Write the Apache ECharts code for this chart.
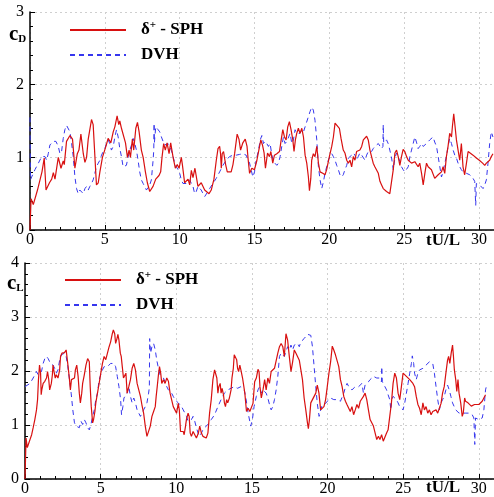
<!DOCTYPE html>
<html><head><meta charset="utf-8">
<script src="https://cdn.jsdelivr.net/npm/echarts/dist/echarts.min.js"></script>
<style>html,body{margin:0;padding:0;background:#fff}#c{width:494px;height:497px}</style>
</head><body><div id="c"></div>
<script>
// tick labels / axes
const xTicks = [0, 5, 10, 15, 20, 25, 30];
const seriesNames = ['δ+ - SPH', 'DVH'];
// cD, δ+-SPH  [tU/L, cD]
const cdSph = [[0,0],[0.07,0.43],[0.22,0.35],[0.5,0.55],[0.8,0.8],[0.95,0.99],[1.07,0.55],[1.3,0.65],[1.45,0.7],[1.56,0.79],[1.67,0.7],[1.89,1.0],[2.07,0.85],[2.22,0.95],[2.29,0.9],[2.44,1.22],[2.67,1.3],[2.78,1.32],[2.84,1.25],[3.0,0.85],[3.16,1.05],[3.27,1.1],[3.4,1.32],[3.56,1.05],[3.67,0.93],[3.78,1.0],[3.89,1.25],[4.11,1.52],[4.22,1.45],[4.44,0.62],[4.56,0.65],[4.67,0.8],[4.84,1.0],[5.07,1.15],[5.22,1.26],[5.4,1.2],[5.56,1.35],[5.67,1.42],[5.82,1.57],[5.93,1.45],[6.0,1.5],[6.11,1.4],[6.22,1.42],[6.38,1.2],[6.51,1.0],[6.62,1.1],[6.71,1.0],[6.84,1.25],[6.93,1.1],[7.07,1.4],[7.18,1.48],[7.29,1.35],[7.44,1.1],[7.56,1.0],[7.71,0.8],[7.84,0.65],[8.0,0.53],[8.11,0.52],[8.22,0.6],[8.4,0.7],[8.62,0.75],[8.73,0.8],[8.82,1.0],[8.93,1.19],[9.04,1.1],[9.16,1.2],[9.29,1.05],[9.4,1.2],[9.56,1.0],[9.71,0.85],[9.84,0.9],[9.96,0.85],[10.11,1.0],[10.18,0.9],[10.33,0.65],[10.56,0.7],[10.67,0.62],[10.78,0.82],[10.89,0.72],[11.02,0.85],[11.22,0.6],[11.44,0.65],[11.67,0.55],[11.96,0.5],[12.11,0.55],[12.29,0.7],[12.44,0.95],[12.56,1.12],[12.67,1.15],[12.73,1.05],[12.78,0.85],[12.84,1.05],[12.93,1.08],[13.07,0.9],[13.18,0.8],[13.44,0.8],[13.56,0.9],[13.67,1.05],[13.84,1.32],[13.96,1.25],[14.07,1.1],[14.22,1.2],[14.38,1.25],[14.5,1.15],[14.58,0.96],[14.67,0.78],[14.82,0.85],[15.0,0.83],[15.16,0.96],[15.27,1.08],[15.42,1.24],[15.53,1.17],[15.64,1.06],[15.73,0.85],[15.87,1.06],[16.0,1.01],[16.09,1.08],[16.22,0.92],[16.33,1.03],[16.49,1.05],[16.67,1.08],[16.78,1.24],[16.89,1.38],[17.0,1.28],[17.11,1.24],[17.22,1.42],[17.33,1.49],[17.44,1.38],[17.56,1.24],[17.64,1.08],[17.73,1.24],[17.82,1.33],[17.93,1.4],[18.04,1.33],[18.16,1.4],[18.27,1.28],[18.38,1.03],[18.49,0.92],[18.6,0.73],[18.67,0.54],[18.76,0.71],[18.82,0.96],[18.93,1.05],[19.04,1.01],[19.16,1.15],[19.27,0.92],[19.38,0.8],[19.56,0.78],[19.71,0.76],[19.82,0.83],[20.0,1.01],[20.16,1.15],[20.27,1.28],[20.38,1.47],[20.49,1.45],[20.67,1.4],[20.78,1.26],[20.93,1.1],[21.04,1.06],[21.16,0.96],[21.27,0.92],[21.38,0.96],[21.49,0.87],[21.6,1.01],[21.71,0.96],[21.82,1.08],[21.93,1.06],[22.04,1.1],[22.16,1.15],[22.27,1.24],[22.38,1.26],[22.49,1.29],[22.6,1.24],[22.71,1.1],[22.82,1.01],[22.93,0.92],[23.04,0.87],[23.16,0.85],[23.27,0.78],[23.38,0.67],[23.49,0.62],[23.6,0.57],[23.71,0.55],[23.82,0.53],[23.93,0.55],[24.04,0.5],[24.16,0.48],[24.27,0.83],[24.38,1.06],[24.49,1.1],[24.6,1.01],[24.71,0.89],[24.82,1.01],[24.93,1.11],[25.04,1.08],[25.16,1.01],[25.27,0.96],[25.49,0.92],[25.71,0.94],[25.82,0.94],[25.93,0.87],[26.04,0.92],[26.16,0.78],[26.27,0.62],[26.38,0.78],[26.49,0.92],[26.6,0.87],[26.71,0.89],[26.82,0.83],[26.93,0.85],[27.04,0.71],[27.16,0.73],[27.27,0.76],[27.38,0.78],[27.49,0.8],[27.6,0.87],[27.71,0.78],[27.82,1.01],[27.93,1.15],[28.04,1.33],[28.16,1.28],[28.22,1.42],[28.31,1.6],[28.4,1.42],[28.49,1.24],[28.6,1.1],[28.71,0.96],[28.82,1.19],[28.93,0.87],[29.04,0.76],[29.16,0.92],[29.27,1.08],[29.38,1.06],[29.6,1.03],[29.82,0.99],[30.02,0.96],[30.24,0.92],[30.38,0.89],[30.49,0.92],[30.71,0.96],[30.82,1.01],[30.93,1.05]];
// cD, DVH
const cdDvh = [[0,1.55],[0.03,0.69],[0.11,0.73],[0.33,0.83],[0.56,0.92],[0.78,1.01],[0.89,1.03],[1.0,1.01],[1.11,0.96],[1.22,1.05],[1.33,1.17],[1.56,1.22],[1.73,1.22],[1.89,1.15],[2.0,1.05],[2.11,1.08],[2.22,1.26],[2.33,1.38],[2.44,1.44],[2.56,1.42],[2.67,1.35],[2.78,1.19],[2.89,1.01],[3.0,0.73],[3.11,0.57],[3.22,0.5],[3.33,0.55],[3.44,0.53],[3.56,0.5],[3.67,0.57],[3.78,0.6],[3.89,0.55],[4.0,0.6],[4.11,0.64],[4.22,0.69],[4.33,0.78],[4.44,0.87],[4.56,0.92],[4.67,0.96],[4.78,1.03],[4.89,1.08],[5.0,1.12],[5.11,1.19],[5.22,1.24],[5.33,1.19],[5.44,1.1],[5.56,1.15],[5.67,1.28],[5.78,1.38],[5.89,1.28],[6.0,1.12],[6.11,1.01],[6.22,0.87],[6.33,0.85],[6.44,0.89],[6.56,1.01],[6.67,1.1],[6.78,1.17],[6.89,1.26],[7.0,1.19],[7.11,1.1],[7.22,0.96],[7.33,0.8],[7.44,0.69],[7.56,0.64],[7.67,0.62],[7.78,0.55],[7.89,0.55],[8.0,0.62],[8.11,0.69],[8.22,0.95],[8.27,1.1],[8.29,1.47],[8.31,1.2],[8.4,1.42],[8.56,1.38],[8.67,1.35],[8.78,1.28],[8.89,1.22],[9.0,1.17],[9.11,1.15],[9.22,1.19],[9.33,1.15],[9.44,1.1],[9.56,1.01],[9.67,0.92],[9.78,0.87],[9.89,0.83],[10.0,0.78],[10.11,0.69],[10.22,0.64],[10.33,0.66],[10.44,0.64],[10.56,0.66],[10.67,0.69],[10.78,0.64],[10.89,0.6],[11.0,0.5],[11.11,0.53],[11.22,0.6],[11.33,0.62],[11.44,0.55],[11.56,0.5],[11.67,0.46],[11.78,0.48],[11.89,0.53],[12.0,0.57],[12.22,0.64],[12.44,0.71],[12.67,0.8],[12.89,0.89],[13.11,0.96],[13.33,1.01],[13.56,1.03],[13.78,1.03],[14.0,1.04],[14.22,1.05],[14.44,1.03],[14.67,0.92],[14.89,0.73],[15.0,0.8],[15.11,0.96],[15.27,1.1],[15.38,1.24],[15.49,1.3],[15.6,1.19],[15.71,1.22],[15.82,1.19],[15.93,1.15],[16.04,1.19],[16.16,1.03],[16.27,0.94],[16.38,0.92],[16.49,0.89],[16.6,0.92],[16.71,1.01],[16.82,1.15],[16.93,1.28],[17.04,1.19],[17.16,1.22],[17.27,1.24],[17.38,1.33],[17.49,1.19],[17.6,1.24],[17.71,1.38],[17.82,1.33],[17.93,1.35],[18.04,1.33],[18.16,1.38],[18.27,1.35],[18.38,1.42],[18.49,1.4],[18.6,1.56],[18.71,1.63],[18.82,1.69],[18.93,1.65],[19.04,1.51],[19.16,1.24],[19.27,0.87],[19.38,0.69],[19.49,0.57],[19.6,0.66],[19.71,0.78],[19.82,0.87],[19.93,0.96],[20.04,1.01],[20.16,1.05],[20.27,1.01],[20.38,0.96],[20.49,0.89],[20.6,0.83],[20.71,0.76],[20.82,0.73],[20.93,0.76],[21.04,0.83],[21.16,0.89],[21.27,0.99],[21.38,1.01],[21.49,1.03],[21.6,1.06],[21.71,1.03],[21.82,0.96],[21.93,1.01],[22.04,1.06],[22.16,1.03],[22.27,1.01],[22.38,0.96],[22.49,1.03],[22.6,1.08],[22.71,1.06],[22.82,1.08],[22.93,1.12],[23.04,1.15],[23.16,1.17],[23.27,1.19],[23.38,1.17],[23.49,1.12],[23.58,1.15],[23.6,1.45],[23.63,1.2],[23.71,1.19],[23.82,1.24],[23.93,1.19],[24.04,1.1],[24.16,0.99],[24.27,0.83],[24.38,0.99],[24.49,1.06],[24.6,1.01],[24.71,0.94],[24.82,0.87],[24.93,0.83],[25.04,0.8],[25.16,0.78],[25.27,0.87],[25.38,1.01],[25.49,1.1],[25.6,1.19],[25.71,1.28],[25.82,1.21],[25.93,1.12],[26.04,1.15],[26.16,1.19],[26.27,1.15],[26.38,1.17],[26.49,1.19],[26.6,1.21],[26.71,1.24],[26.82,1.26],[26.93,1.28],[27.04,1.21],[27.16,1.15],[27.27,1.01],[27.38,0.87],[27.49,0.73],[27.6,0.8],[27.71,0.92],[27.82,1.01],[27.93,1.15],[28.04,1.26],[28.16,1.19],[28.27,1.1],[28.38,1.03],[28.49,0.99],[28.6,0.92],[28.71,0.87],[28.82,0.83],[28.93,0.8],[29.16,0.78],[29.38,0.76],[29.6,0.71],[29.71,0.67],[29.78,0.34],[29.82,0.64],[30.04,0.62],[30.27,0.57],[30.38,0.62],[30.49,0.69],[30.6,0.92],[30.71,1.19],[30.82,1.35],[30.93,1.28]];
// cL, δ+-SPH
const clSph = [[0,0],[0.07,0.76],[0.15,0.58],[0.22,0.64],[0.33,0.73],[0.44,0.82],[0.54,0.95],[0.65,1.1],[0.76,1.28],[0.83,1.47],[0.89,1.84],[0.96,2.11],[1.03,1.96],[1.07,1.56],[1.11,1.65],[1.2,1.77],[1.31,1.81],[1.42,1.87],[1.49,1.99],[1.57,1.84],[1.63,1.65],[1.74,1.77],[1.81,1.93],[1.85,2.11],[1.92,1.99],[2.0,1.87],[2.07,1.93],[2.18,1.87],[2.29,2.02],[2.35,2.27],[2.44,2.33],[2.51,2.3],[2.61,2.34],[2.72,2.39],[2.79,2.36],[2.85,2.08],[2.94,1.84],[3.0,1.65],[3.07,1.84],[3.16,1.81],[3.27,1.87],[3.33,2.02],[3.42,2.11],[3.51,1.9],[3.59,1.59],[3.66,1.41],[3.75,1.59],[3.81,1.77],[3.92,1.93],[4.03,2.11],[4.14,2.23],[4.25,2.17],[4.31,1.71],[4.38,1.34],[4.47,1.04],[4.53,1.1],[4.62,1.25],[4.68,1.41],[4.79,1.59],[4.9,1.77],[5.01,1.96],[5.12,2.14],[5.23,2.27],[5.34,2.21],[5.45,2.33],[5.56,2.45],[5.66,2.54],[5.77,2.69],[5.84,2.76],[5.93,2.69],[5.99,2.51],[6.08,2.6],[6.14,2.68],[6.21,2.57],[6.3,2.33],[6.36,2.27],[6.43,2.08],[6.51,1.87],[6.6,1.84],[6.67,1.96],[6.75,1.59],[6.86,1.71],[6.97,1.84],[7.08,2.05],[7.19,2.14],[7.3,2.02],[7.41,1.77],[7.52,1.65],[7.63,1.53],[7.73,1.37],[7.84,1.22],[7.95,0.98],[8.06,0.79],[8.17,0.82],[8.28,0.98],[8.39,1.16],[8.5,1.25],[8.61,1.34],[8.67,1.53],[8.74,1.71],[8.82,1.93],[8.89,2.08],[8.97,1.96],[9.04,1.77],[9.15,1.84],[9.26,1.77],[9.37,1.87],[9.48,1.81],[9.59,1.59],[9.69,1.47],[9.8,1.34],[9.91,1.28],[10.02,1.22],[10.13,1.4],[10.2,1.28],[10.28,0.88],[10.39,0.85],[10.46,0.88],[10.52,0.82],[10.61,0.98],[10.67,1.1],[10.78,1.22],[10.85,1.16],[10.92,0.85],[11.0,0.79],[11.11,0.88],[11.22,0.85],[11.33,0.76],[11.4,0.74],[11.46,0.85],[11.55,0.98],[11.66,0.85],[11.76,0.79],[11.87,0.82],[11.98,0.76],[12.09,0.85],[12.2,1.22],[12.31,1.47],[12.42,1.84],[12.53,2.02],[12.59,2.03],[12.68,1.87],[12.75,1.59],[12.81,1.71],[12.9,1.77],[12.96,1.59],[13.03,1.68],[13.12,1.56],[13.18,1.41],[13.25,1.34],[13.33,1.47],[13.4,1.41],[13.51,1.5],[13.62,1.65],[13.68,1.87],[13.77,2.05],[13.83,2.3],[13.9,2.33],[13.99,2.21],[14.05,2.05],[14.12,1.99],[14.2,2.11],[14.27,2.02],[14.38,1.87],[14.53,1.59],[14.64,1.25],[14.75,1.31],[14.86,1.25],[14.97,1.28],[15.07,1.4],[15.18,1.8],[15.29,1.87],[15.4,2.03],[15.47,1.99],[15.53,1.71],[15.62,1.5],[15.73,1.65],[15.84,1.84],[15.94,1.65],[16.05,1.87],[16.16,1.77],[16.27,1.99],[16.38,1.96],[16.49,2.05],[16.6,2.08],[16.71,2.33],[16.82,2.45],[16.93,2.51],[17.04,2.45],[17.14,2.27],[17.25,2.69],[17.36,2.57],[17.47,2.27],[17.58,1.99],[17.69,2.17],[17.8,2.39],[17.91,2.33],[18.02,2.3],[18.13,2.2],[18.23,2.17],[18.34,1.84],[18.45,1.5],[18.56,1.28],[18.67,1.04],[18.73,0.93],[18.8,1.1],[18.89,1.41],[19.0,1.47],[19.11,1.47],[19.22,1.59],[19.32,1.74],[19.43,1.59],[19.54,1.28],[19.65,1.28],[19.76,1.34],[19.87,1.47],[19.98,1.71],[20.09,1.96],[20.2,2.17],[20.31,2.46],[20.41,2.39],[20.52,2.3],[20.63,2.27],[20.74,2.08],[20.85,1.84],[20.96,1.71],[21.07,1.53],[21.18,1.44],[21.28,1.38],[21.39,1.41],[21.5,1.25],[21.61,1.34],[21.72,1.19],[21.83,1.28],[21.94,1.38],[22.05,1.31],[22.16,1.44],[22.27,1.41],[22.37,1.53],[22.48,1.59],[22.59,1.47],[22.7,1.28],[22.81,1.1],[22.92,1.1],[23.03,0.98],[23.14,0.95],[23.25,0.73],[23.36,0.79],[23.46,0.73],[23.57,0.82],[23.68,0.7],[23.79,0.73],[23.9,0.85],[24.0,0.91],[24.11,1.16],[24.22,1.41],[24.33,1.77],[24.44,1.96],[24.55,1.87],[24.66,1.59],[24.77,1.47],[24.88,1.71],[24.99,1.96],[25.1,1.97],[25.21,1.9],[25.32,1.87],[25.43,1.84],[25.54,1.81],[25.64,1.77],[25.75,1.71],[25.86,1.53],[25.97,1.38],[26.08,1.31],[26.19,1.19],[26.3,1.41],[26.4,1.28],[26.51,1.34],[26.62,1.22],[26.73,1.28],[26.84,1.19],[26.95,1.25],[27.06,1.25],[27.17,1.28],[27.28,1.22],[27.39,1.31],[27.5,1.4],[27.6,1.59],[27.71,1.71],[27.82,1.96],[27.93,2.2],[28.0,2.27],[28.08,2.14],[28.17,2.33],[28.26,2.48],[28.32,2.27],[28.38,2.02],[28.47,1.84],[28.54,1.62],[28.62,1.84],[28.69,1.59],[28.8,1.41],[28.9,1.16],[28.97,1.22],[29.06,1.5],[29.12,1.44],[29.28,1.41],[29.39,1.38],[29.5,1.35],[29.61,1.36],[29.71,1.38],[29.82,1.36],[30.0,1.38],[30.11,1.41],[30.22,1.44],[30.33,1.5],[30.44,1.56]];
// cL, DVH
const clDvh = [[0,1.71],[0.11,1.68],[0.33,1.77],[0.54,1.87],[0.65,1.93],[0.76,1.99],[0.87,1.93],[0.98,1.93],[1.09,1.99],[1.2,2.14],[1.31,2.23],[1.42,2.27],[1.53,2.23],[1.63,2.17],[1.74,2.14],[1.85,2.11],[1.96,2.05],[2.07,1.96],[2.18,2.02],[2.29,2.2],[2.4,2.3],[2.51,2.33],[2.61,2.33],[2.72,2.27],[2.83,2.08],[2.94,1.84],[3.05,1.59],[3.16,1.28],[3.27,1.04],[3.38,0.98],[3.49,1.01],[3.59,0.95],[3.7,1.07],[3.81,1.01],[3.92,1.1],[4.03,1.04],[4.14,0.95],[4.25,0.91],[4.36,1.01],[4.47,1.16],[4.58,1.28],[4.68,1.47],[4.79,1.59],[4.9,1.84],[5.01,1.93],[5.12,2.02],[5.23,2.08],[5.34,2.11],[5.45,2.08],[5.56,2.05],[5.66,2.14],[5.77,2.17],[5.88,2.14],[5.99,2.08],[6.1,1.9],[6.21,1.71],[6.32,1.47],[6.38,1.19],[6.47,1.34],[6.54,1.5],[6.64,1.53],[6.75,1.59],[6.86,1.71],[6.97,1.53],[7.08,1.41],[7.19,1.5],[7.3,1.41],[7.41,1.28],[7.52,1.22],[7.63,1.16],[7.73,1.19],[7.84,1.28],[7.95,1.34],[8.06,1.41],[8.17,1.59],[8.22,1.7],[8.24,2.6],[8.3,2.33],[8.39,2.45],[8.5,2.51],[8.61,2.39],[8.71,2.2],[8.82,2.05],[8.93,1.93],[9.04,1.9],[9.15,1.87],[9.26,1.8],[9.37,1.71],[9.48,1.65],[9.59,1.62],[9.69,1.59],[9.8,1.53],[9.91,1.47],[10.13,1.41],[10.35,1.34],[10.46,1.28],[10.57,1.22],[10.67,1.16],[10.78,1.07],[10.89,1.04],[11.0,1.1],[11.11,1.16],[11.22,1.07],[11.33,0.95],[11.44,0.85],[11.55,0.79],[11.66,0.85],[11.76,0.91],[11.87,0.95],[11.98,0.95],[12.09,1.01],[12.31,1.1],[12.53,1.19],[12.75,1.34],[12.96,1.47],[13.18,1.59],[13.4,1.65],[13.62,1.68],[13.83,1.71],[14.05,1.68],[14.27,1.71],[14.49,1.65],[14.6,1.5],[14.75,1.22],[14.92,0.98],[15.03,1.1],[15.14,1.34],[15.29,1.53],[15.4,1.65],[15.51,1.71],[15.62,1.59],[15.73,1.65],[15.84,1.68],[15.94,1.59],[16.05,1.5],[16.16,1.38],[16.27,1.28],[16.38,1.34],[16.49,1.47],[16.6,1.65],[16.71,1.9],[16.82,2.27],[16.93,2.33],[17.04,2.3],[17.14,2.27],[17.25,2.36],[17.36,2.45],[17.47,2.39],[17.58,2.48],[17.69,2.39],[17.8,2.48],[17.91,2.45],[18.02,2.51],[18.13,2.45],[18.23,2.54],[18.34,2.51],[18.45,2.6],[18.56,2.6],[18.67,2.68],[18.78,2.71],[18.89,2.66],[19.0,2.45],[19.11,2.08],[19.22,1.71],[19.32,1.4],[19.44,1.16],[19.54,1.28],[19.65,1.37],[19.76,1.34],[19.87,1.4],[19.98,1.44],[20.09,1.47],[20.2,1.5],[20.31,1.53],[20.41,1.47],[20.52,1.44],[20.63,1.47],[20.74,1.47],[20.85,1.44],[20.96,1.47],[21.07,1.59],[21.19,1.71],[21.29,1.77],[21.4,1.71],[21.5,1.68],[21.61,1.65],[21.72,1.68],[21.83,1.71],[21.94,1.74],[22.05,1.71],[22.16,1.74],[22.27,1.77],[22.37,1.59],[22.48,1.74],[22.59,1.77],[22.7,1.8],[22.81,1.84],[22.92,1.87],[23.03,1.9],[23.14,1.93],[23.25,1.87],[23.36,1.84],[23.46,1.87],[23.56,1.8],[23.58,2.08],[23.62,1.8],[23.68,1.77],[23.79,1.71],[23.9,1.65],[24.0,1.56],[24.11,1.47],[24.18,1.28],[24.24,1.47],[24.33,1.53],[24.44,1.5],[24.55,1.47],[24.66,1.41],[24.77,1.34],[24.88,1.31],[24.99,1.28],[25.1,1.41],[25.21,1.59],[25.32,1.77],[25.43,1.96],[25.54,2.14],[25.6,2.28],[25.69,2.14],[25.75,1.96],[25.86,1.84],[25.97,1.96],[26.08,2.02],[26.19,1.99],[26.3,2.05],[26.4,2.08],[26.51,2.11],[26.62,2.14],[26.73,2.17],[26.84,2.2],[26.95,2.14],[27.06,1.96],[27.17,1.71],[27.28,1.47],[27.39,1.28],[27.5,1.41],[27.6,1.47],[27.71,1.53],[27.82,1.65],[27.93,1.74],[28.04,1.65],[28.15,1.53],[28.26,1.41],[28.37,1.34],[28.47,1.28],[28.58,1.25],[28.69,1.22],[28.91,1.22],[29.13,1.22],[29.35,1.22],[29.56,1.19],[29.67,1.13],[29.73,0.64],[29.78,1.13],[30.0,1.1],[30.22,1.13],[30.33,1.28],[30.44,1.65],[30.5,1.72]];

const SERIF = 'Liberation Serif';
const RED = '#d81010', BLUE = '#3636ee';

function xAxisCfg(grid) {
  return {
    type: 'value', gridIndex: grid, min: 0, max: 31, interval: 5,
    axisLine: { show: true, onZero: false, lineStyle: { color: '#000', width: 1.5 } },
    axisTick: { show: true, inside: true, length: 5, lineStyle: { color: '#000', width: 1 } },
    minorTick: { show: true, splitNumber: 5, length: 3, lineStyle: { color: '#000', width: 1 } },
    splitLine: { show: true, lineStyle: { color: '#cfcfcf', type: [2, 3], width: 1 } },
    axisLabel: { color: '#000', fontFamily: SERIF, fontSize: 16, margin: 2, showMaxLabel: false,
      formatter: v => xTicks.indexOf(v) >= 0 ? String(v) : '' }
  };
}
function yAxisCfg(grid, max, margin) {
  return {
    type: 'value', gridIndex: grid, min: 0, max: max, interval: 1,
    axisLine: { show: true, onZero: false, lineStyle: { color: '#000', width: 1.5 } },
    axisTick: { show: true, inside: true, length: 5, lineStyle: { color: '#000', width: 1 } },
    minorTick: { show: true, splitNumber: 5, length: 3, lineStyle: { color: '#000', width: 1 } },
    splitLine: { show: true, lineStyle: { color: '#cfcfcf', type: [2, 3], width: 1 } },
    axisLabel: { color: '#000', fontFamily: SERIF, fontSize: 16, margin: margin }
  };
}
function lineSeries(name, data, xi, yi) {
  const sph = name === seriesNames[0];
  return {
    type: 'line', name: name, data: data, xAxisIndex: xi, yAxisIndex: yi,
    symbol: 'none', showSymbol: false, smooth: false, animation: false,
    lineStyle: sph ? { color: RED, width: 1.2 } : { color: BLUE, width: 1, type: [5, 4] },
    itemStyle: { color: sph ? RED : BLUE }, z: sph ? 3 : 2
  };
}
const legendText = {
  fontFamily: SERIF, fontSize: 17, fontWeight: 'bold', color: '#000', padding: [0, 0, 0, 10],
  rich: {
    d: { fontFamily: SERIF, fontSize: 17, color: '#000' },
    sup: { fontFamily: SERIF, fontSize: 11, color: '#000', verticalAlign: 'top', padding: [0, 0, 9, 0] },
    b: { fontFamily: SERIF, fontSize: 17, fontWeight: 'bold', color: '#000' }
  }
};
const legendFmt = n => n === seriesNames[0] ? '{d|δ}{sup|+}{b| - SPH}' : '{b|DVH}';
function legendCfg(left, top) {
  return { data: seriesNames, orient: 'vertical', left: left, top: top, padding: 0,
    itemWidth: 56, itemHeight: 14, itemGap: 8, textStyle: legendText, formatter: legendFmt,
    itemStyle: { opacity: 0, borderWidth: 0 }, selectedMode: false };
}

const chart = echarts.init(document.getElementById('c'), null, { renderer: 'canvas' });
chart.setOption({
  animation: false,
  backgroundColor: '#fff',
  grid: [
    { left: 30, top: 12, width: 465, height: 218 },
    { left: 25, top: 263, width: 474, height: 217 }
  ],
  xAxis: [xAxisCfg(0), xAxisCfg(1)],
  yAxis: [yAxisCfg(0, 3, 6), yAxisCfg(1, 4, 6)],
  legend: [legendCfg(69, 20), legendCfg(64, 270)],
  series: [
    lineSeries(seriesNames[1], cdDvh, 0, 0),
    lineSeries(seriesNames[0], cdSph, 0, 0),
    lineSeries(seriesNames[1], clDvh, 1, 1),
    lineSeries(seriesNames[0], clSph, 1, 1)
  ],
  graphic: [
    { type: 'text', left: 9, top: 24, style: { text: '{c|c}{s|D}', rich: {
      c: { fontFamily: SERIF, fontSize: 21, fontWeight: 'bold', fill: '#000' },
      s: { fontFamily: SERIF, fontSize: 11, fontWeight: 'bold', fill: '#000', verticalAlign: 'bottom', padding: [6, 0, 0, 0] } } } },
    { type: 'text', left: 7, top: 273, style: { text: '{c|c}{s|L}', rich: {
      c: { fontFamily: SERIF, fontSize: 21, fontWeight: 'bold', fill: '#000' },
      s: { fontFamily: SERIF, fontSize: 11, fontWeight: 'bold', fill: '#000', verticalAlign: 'bottom', padding: [6, 0, 0, 0] } } } },
    { type: 'text', left: 426, top: 232, style: { text: 'tU/L', fontFamily: SERIF, fontSize: 17, fontWeight: 'bold', fill: '#000' } },
    { type: 'text', left: 426, top: 479, style: { text: 'tU/L', fontFamily: SERIF, fontSize: 17, fontWeight: 'bold', fill: '#000' } }
  ]
});
</script></body></html>
